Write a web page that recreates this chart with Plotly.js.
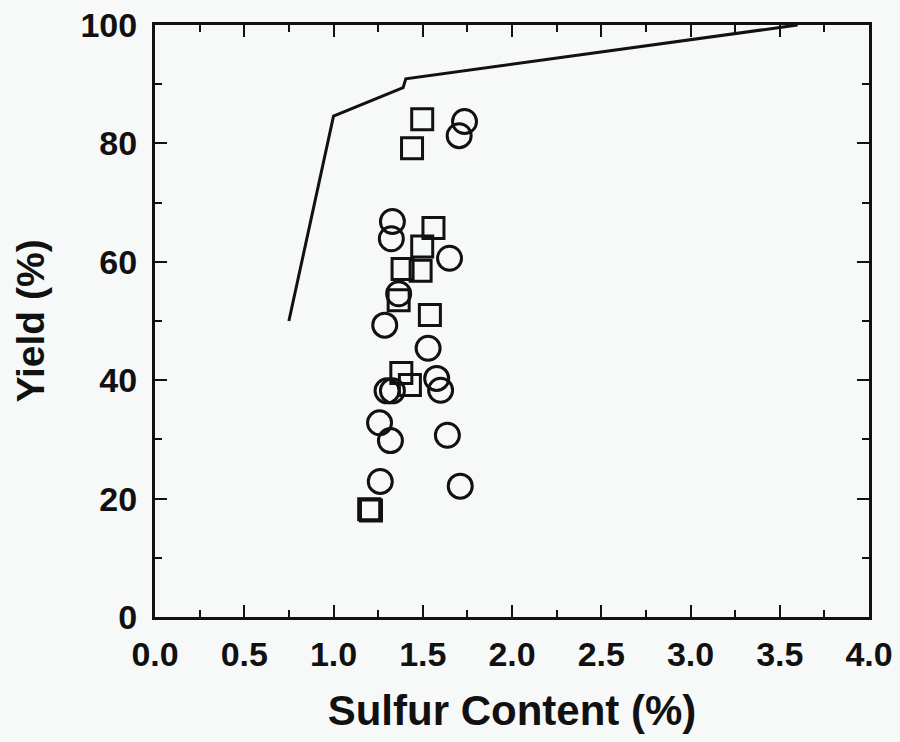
<!DOCTYPE html>
<html>
<head>
<meta charset="utf-8">
<script src="https://cdn.plot.ly/plotly-3.0.1.min.js"></script>
<style>html,body{margin:0;padding:0;background:#f7f8f8;}#chart{width:900px;height:742px;}</style>
</head>
<body>
<div id="chart"></div>
<script>
// Curve (limit line)
const curveX = [0.75, 1.0, 1.39, 1.405, 3.6];
const curveY = [50, 84.6, 89.4, 90.9, 100];

// Circle series
const circleX = [1.734, 1.704, 1.33, 1.324, 1.65, 1.365, 1.287, 1.53, 1.30, 1.33, 1.578, 1.60, 1.258, 1.319, 1.638, 1.262, 1.71];
const circleY = [83.7, 81.3, 66.8, 63.9, 60.6, 54.6, 49.3, 45.4, 38.2, 38.2, 40.3, 38.3, 32.8, 29.8, 30.7, 22.9, 22.1];

// Square series
const squareX = [1.497, 1.44, 1.56, 1.497, 1.488, 1.387, 1.365, 1.54, 1.38, 1.428, 1.20, 1.21];
const squareY = [84.1, 79.2, 65.7, 62.6, 58.5, 58.8, 53.5, 51.0, 41.2, 39.2, 18.2, 18.0];

const xTickVals = [0, 0.5, 1, 1.5, 2, 2.5, 3, 3.5, 4];
const xTickText = ['0.0', '0.5', '1.0', '1.5', '2.0', '2.5', '3.0', '3.5', '4.0'];
const yTickVals = [0, 20, 40, 60, 80, 100];

const ink = '#111';
const traces = [
  {x: curveX, y: curveY, mode: 'lines', line: {color: ink, width: 3}, hoverinfo: 'skip', showlegend: false},
  {x: circleX, y: circleY, mode: 'markers', marker: {symbol: 'circle-open', size: 24, color: ink, line: {width: 3, color: ink}}, showlegend: false},
  {x: squareX, y: squareY, mode: 'markers', marker: {symbol: 'square-open', size: 21, color: ink, line: {width: 3, color: ink}}, showlegend: false}
];

const font = {family: '"Liberation Sans", Arial, sans-serif', color: ink};
const layout = {
  width: 900, height: 742,
  paper_bgcolor: '#f7f8f8', plot_bgcolor: '#f7f8f8',
  margin: {l: 155, r: 31, t: 25, b: 125},
  showlegend: false,
  font: font,
  xaxis: {
    range: [0, 4], tickvals: xTickVals, ticktext: xTickText,
    ticks: 'inside', ticklen: 12, tickwidth: 2, tickcolor: ink,
    showline: true, linecolor: ink, linewidth: 3, mirror: 'ticks',
    showgrid: false, zeroline: false,
    minor: {dtick: 0.25, tick0: 0, ticks: 'inside', ticklen: 7, tickwidth: 2, tickcolor: ink},
    tickfont: {family: font.family, size: 34, color: ink, weight: 'bold'},
    ticklabelstandoff: 5,
    title: {text: '<b>Sulfur Content (%)</b>', font: {family: font.family, size: 42, color: ink}, standoff: 24}
  },
  yaxis: {
    range: [0, 100], tickvals: yTickVals,
    ticks: 'inside', ticklen: 12, tickwidth: 2, tickcolor: ink,
    showline: true, linecolor: ink, linewidth: 3, mirror: 'ticks',
    showgrid: false, zeroline: false,
    minor: {dtick: 10, tick0: 0, ticks: 'inside', ticklen: 7, tickwidth: 2, tickcolor: ink},
    tickfont: {family: font.family, size: 34, color: ink, weight: 'bold'},
    ticklabelstandoff: 8,
    title: {text: '<b>Yield (%)</b>', font: {family: font.family, size: 39, color: ink}, standoff: 24}
  }
};

Plotly.newPlot('chart', traces, layout, {staticPlot: true});
</script>
</body>
</html>
